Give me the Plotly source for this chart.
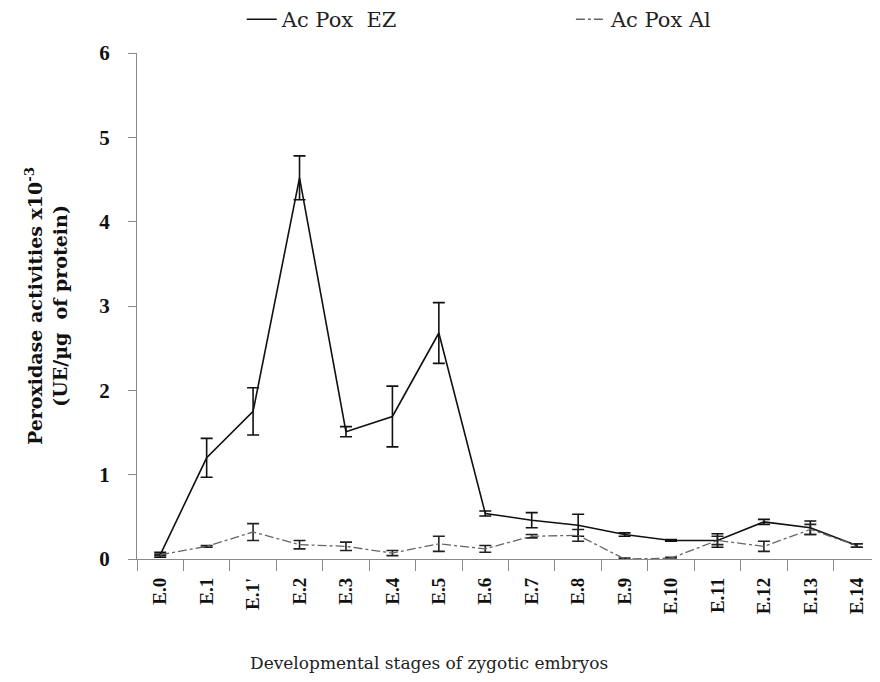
import plotly.graph_objects as go

stages = ["E.0", "E.1", "E.1'", "E.2", "E.3", "E.4", "E.5", "E.6", "E.7", "E.8",
          "E.9", "E.10", "E.11", "E.12", "E.13", "E.14"]
ez_values = [0.05, 1.20, 1.75, 4.52, 1.51, 1.69, 2.68, 0.54, 0.46, 0.40,
             0.29, 0.22, 0.22, 0.44, 0.37, 0.16]
ez_errors = [0.03, 0.23, 0.28, 0.26, 0.06, 0.36, 0.36, 0.03, 0.09, 0.13,
             0.02, 0.01, 0.08, 0.03, 0.08, 0.02]
al_values = [0.05, 0.15, 0.32, 0.17, 0.15, 0.07, 0.18, 0.12, 0.27, 0.28,
             0.00, 0.01, 0.22, 0.15, 0.35, 0.16]
al_errors = [0.01, 0.01, 0.10, 0.05, 0.05, 0.03, 0.09, 0.04, 0.02, 0.07,
             0.01, 0.01, 0.05, 0.06, 0.06, 0.02]
y_ticks = [0, 1, 2, 3, 4, 5, 6]

serif = "Liberation Serif"
wide_serif = "DejaVu Serif"

fig = go.Figure()
fig.add_trace(go.Scatter(
    x=stages, y=ez_values, mode="lines", name="Ac Pox  EZ", legend="legend",
    line=dict(color="#111111", width=1.6),
    error_y=dict(type="data", array=ez_errors, visible=True,
                 color="#111111", thickness=1.6, width=6),
))
fig.add_trace(go.Scatter(
    x=stages, y=al_values, mode="lines", name="Ac Pox Al", legend="legend2",
    line=dict(color="#666666", width=1.3, dash="dashdot"),
    error_y=dict(type="data", array=al_errors, visible=True,
                 color="#222222", thickness=1.6, width=6),
))

legend_font = dict(family=wide_serif, size=21, color="#222222")

fig.update_layout(
    width=872, height=674,
    margin=dict(l=129, r=0, t=45, b=123, autoexpand=False),
    paper_bgcolor="white", plot_bgcolor="white",
    font=dict(family=serif, color="#111111"),
    showlegend=True,
    legend=dict(orientation="h", x=0.141, xanchor="left", y=1.066, yanchor="middle",
                font=legend_font, bgcolor="rgba(0,0,0,0)"),
    legend2=dict(orientation="h", x=0.584, xanchor="left", y=1.066, yanchor="middle",
                 font=legend_font, bgcolor="rgba(0,0,0,0)"),
    xaxis=dict(
        type="category", categoryorder="array", categoryarray=stages,
        range=[-0.5, 15.5], tickson="boundaries",
        ticks="outside", ticklen=11, tickcolor="#888888", tickwidth=1,
        showline=True, linecolor="#888888", linewidth=1.2,
        showgrid=False, zeroline=False, tickangle=-90, ticklabelstandoff=10,
        tickfont=dict(family=serif, size=19, color="#111111", weight="bold"),
    ),
    yaxis=dict(
        range=[0, 6], tickvals=y_ticks, ticks="outside", ticklen=8,
        tickcolor="#888888", showline=True, linecolor="#888888", linewidth=1.2,
        showgrid=False, zeroline=False, ticklabelstandoff=14,
        tickfont=dict(family=serif, size=21, color="#111111", weight="bold"),
        title=dict(text="Peroxidase activities x10<sup>-3</sup><br>(UE/µg  of protein)",
                   font=dict(family=wide_serif, size=19, color="#111111", weight="bold"),
                   standoff=26),
    ),
    annotations=[dict(
        text="Developmental stages of zygotic embryos", xref="paper", yref="paper",
        x=0.393, y=-0.2055, xanchor="center", yanchor="middle", showarrow=False,
        font=dict(family=wide_serif, size=17, color="#222222"),
    )],
)

fig.write_html("out.html")
